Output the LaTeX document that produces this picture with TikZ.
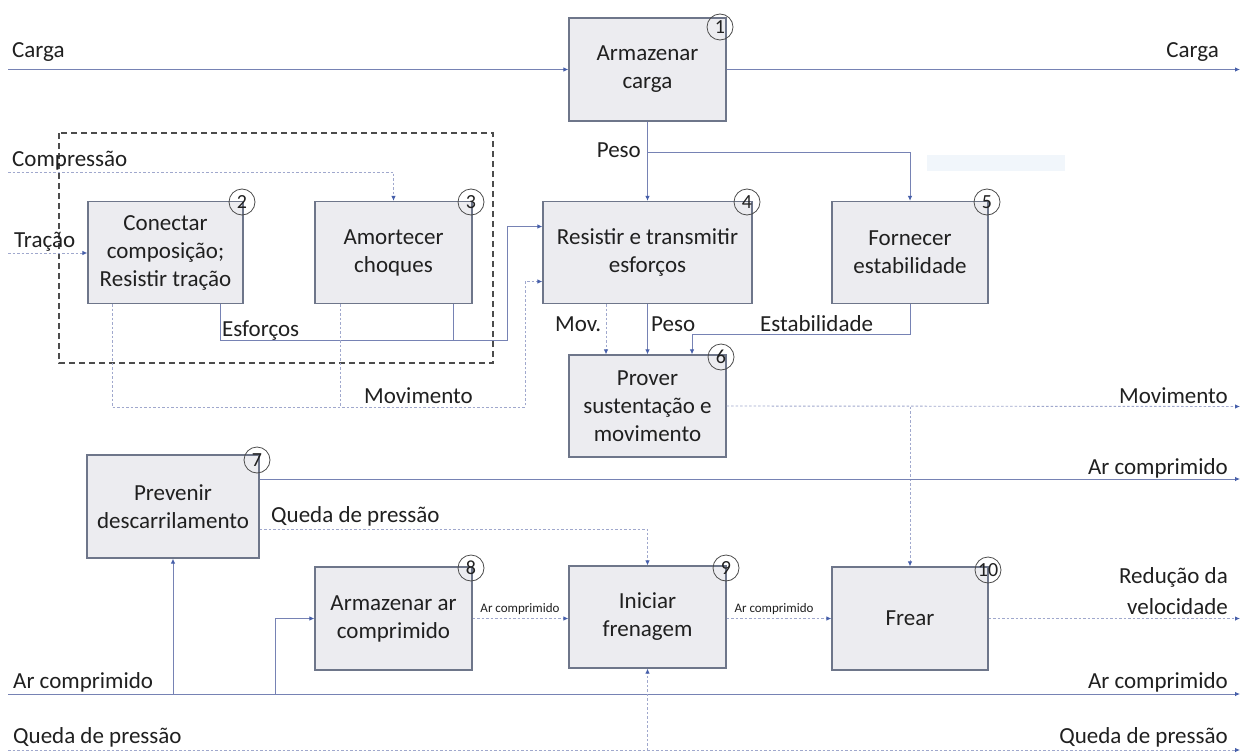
\documentclass[tikz,border=0pt]{standalone}
\usepackage{fontspec}
\setmainfont{Carlito}
\usetikzlibrary{arrows.meta}
\definecolor{ln}{RGB}{118,130,180}
\definecolor{dl}{RGB}{160,168,205}
\definecolor{bx}{RGB}{236,236,240}
\definecolor{bd}{RGB}{110,118,138}
\definecolor{tx}{RGB}{32,32,32}
\definecolor{arr}{RGB}{70,95,170}
\definecolor{faint}{RGB}{241,246,251}
\begin{document}
\begin{tikzpicture}[x=1pt,y=-1pt,
  fbox/.style={draw=bd,line width=1.3pt,fill=bx,text=tx,align=center,
    font=\fontsize{23}{28}\selectfont,inner sep=0pt},
  num/.style={draw=black!70,circle,minimum size=26pt,inner sep=0pt,
    font=\fontsize{20}{20}\selectfont,text=tx,line width=0.8pt},
  flow/.style={draw=ln,line width=0.9pt,-{Latex[length=5pt,width=4.5pt,color=arr]}},
  dflow/.style={draw=dl,line width=0.9pt,dash pattern=on 2.5pt off 2pt,
    -{Latex[length=5pt,width=4.5pt,color=arr]}},
  plain/.style={draw=ln,line width=0.9pt},
  dplain/.style={draw=dl,line width=0.9pt,dash pattern=on 2.5pt off 2pt},
  lbl/.style={font=\fontsize{23}{28}\selectfont,text=tx,inner sep=0pt},
  tiny/.style={font=\fontsize{13}{15}\selectfont,text=tx,inner sep=0pt}]
\useasboundingbox (0,0) rectangle (1246,752);
\fill[white] (0,0) rectangle (1246,752);

% faint rectangle
\fill[faint] (927,155) rectangle (1065,171);

% dashed group frame
\draw[black!70,line width=1.4pt,dash pattern=on 6pt off 4pt] (59,133) rectangle (493,363);

% boxes
\node[fbox,minimum width=157pt,minimum height=103pt] (b1) at (647.5,69.5) {Armazenar\\carga};
\node[fbox,minimum width=155pt,minimum height=102pt] (b2) at (165.5,252.5) {Conectar\\composição;\\Resistir tração};
\node[fbox,minimum width=157pt,minimum height=102pt] (b3) at (393.5,252.5) {Amortecer\\choques};
\node[fbox,minimum width=209pt,minimum height=102pt] (b4) at (647.5,252.5) {Resistir e transmitir\\esforços};
\node[fbox,minimum width=156pt,minimum height=102pt] (b5) at (910,252.5) {Fornecer\\estabilidade};
\node[fbox,minimum width=157pt,minimum height=102pt] (b6) at (647.5,406) {Prover\\sustentação e\\movimento};
\node[fbox,minimum width=172pt,minimum height=103pt] (b7) at (173,506.5) {Prevenir\\descarrilamento};
\node[fbox,minimum width=157pt,minimum height=103pt] (b8) at (393.5,618.5) {Armazenar ar\\comprimido};
\node[fbox,minimum width=157pt,minimum height=102pt] (b9) at (647.5,617) {Iniciar\\frenagem};
\node[fbox,minimum width=156pt,minimum height=103pt] (b10) at (910,618.5) {Frear};

% numbers
\node[num] (n1) at (720,27) {1};
\node[num] (n2) at (242,202) {2};
\node[num] (n3) at (471,202) {3};
\node[num] (n4) at (747,202) {4};
\node[num] (n5) at (987,202) {5};
\node[num] (n6) at (721,357) {6};
\node[num] (n7) at (257,460) {7};
\node[num] (n8) at (471,568) {8};
\node[num] (n9) at (726,568) {9};
\node[num] (n10) at (988,570) {10};

% free ends
\coordinate (cargaL) at (8,69.5);
\coordinate (cargaR) at (1240,69.5);
\coordinate (pj) at (647.5,152);
\coordinate (compL) at (8,172);
\coordinate (tracL) at (8,253);
\coordinate (e1) at (507,340);
\coordinate (m1) at (525,407);
\coordinate (st) at (692,334);
\coordinate (movR) at (1240,406.5);
\coordinate (mj) at (910,406.5);
\coordinate (ar1R) at (1240,479);
\coordinate (arL) at (8,694);
\coordinate (arR) at (1240,694);
\coordinate (aj1) at (173,694);
\coordinate (aj2) at (275,694);
\coordinate (qL) at (8,750);
\coordinate (qR) at (1240,750);
\coordinate (qj) at (647.5,750);
\coordinate (redR) at (1240,618.5);

% connectors
\draw[flow] (cargaL) -- (b1.west);
\draw[flow] (b1.east) -- (cargaR);
\draw[flow] (b1.south) -- (b4.north);
\draw[flow] (pj) -| (b5.north);
\draw[dflow] (compL) -| (b3.north);
\draw[dflow] (tracL) -- (b2.west |- tracL);
\draw[flow] ([xshift=54.5pt]b2.south) |- (e1) |- ([yshift=26pt]b4.west);
\draw[plain] ([xshift=59.5pt]b3.south) -- ([xshift=59.5pt]b3.south |- e1);
\draw[dflow] ([xshift=-53.5pt]b2.south) |- (m1) |- ([yshift=-29pt]b4.west);
\draw[dplain] ([xshift=-53.5pt]b3.south) -- ([xshift=-53.5pt]b3.south |- m1);
\draw[dflow] ([xshift=-41.5pt]b4.south) -- ([xshift=-41.5pt]b6.north);
\draw[flow] (b4.south) -- (b6.north);
\draw[flow] (b5.south) |- (st) -- (st |- b6.north);
\draw[dflow] (b6.east) -- (movR);
\draw[dflow] (mj) -- (b10.north);
\draw[flow] ([yshift=27.5pt]b7.east) -- (ar1R);
\draw[dflow] ([yshift=-22.5pt]b7.east) -| (b9.north);
\draw[flow] (arL) -- (arR);
\draw[flow] (aj1) -- (b7.south);
\draw[flow] (aj2) |- (b8.west);
\draw[dflow] (qL) -- (qR);
\draw[dflow] (qj) -- (b9.south);
\draw[dflow] (b8.east) -- (b8.east -| b9.west);
\draw[dflow] (b9.east |- b10.west) -- (b10.west);
\draw[dflow] (b10.east) -- (redR);

% labels
\node[lbl,anchor=base west] (tCargaL) at (12,57) {Carga};
\node[lbl,anchor=base east] (tCargaR) at (1219,57) {Carga};
\node[lbl,anchor=base west] (tComp) at (12,166) {Compressão};
\node[lbl,anchor=base west] (tTrac) at (14,247) {Tração};
\node[lbl,anchor=base east] (tPeso1) at (641,157) {Peso};
\node[lbl,anchor=base west] (tEsf) at (222,336) {Esforços};
\node[lbl,anchor=base east] (tMov1) at (473,403) {Movimento};
\node[lbl,anchor=base west] (tMov) at (555,331) {Mov.};
\node[lbl,anchor=base west] (tPeso2) at (651,331) {Peso};
\node[lbl,anchor=base west] (tEst) at (760,331) {Estabilidade};
\node[lbl,anchor=base east] (tMovR) at (1228,403) {Movimento};
\node[lbl,anchor=base east] (tAr1) at (1228,474) {Ar comprimido};
\node[lbl,anchor=base west] (tQueda1) at (271,522) {Queda de pressão};
\node[lbl,anchor=base west] (tArL) at (13,688) {Ar comprimido};
\node[lbl,anchor=base east] (tArR) at (1228,688) {Ar comprimido};
\node[lbl,anchor=base west] (tQL) at (13,743) {Queda de pressão};
\node[lbl,anchor=base east] (tQR) at (1228,743) {Queda de pressão};
\node[lbl,align=right,anchor=east,font=\fontsize{23}{31}\selectfont] (tRed) at (1228,591) {Redução da\\velocidade};
\node[tiny,anchor=base] (tAr89) at (520,612) {Ar comprimido};
\node[tiny,anchor=base] (tAr910) at (774,612) {Ar comprimido};
\end{tikzpicture}
\end{document}
